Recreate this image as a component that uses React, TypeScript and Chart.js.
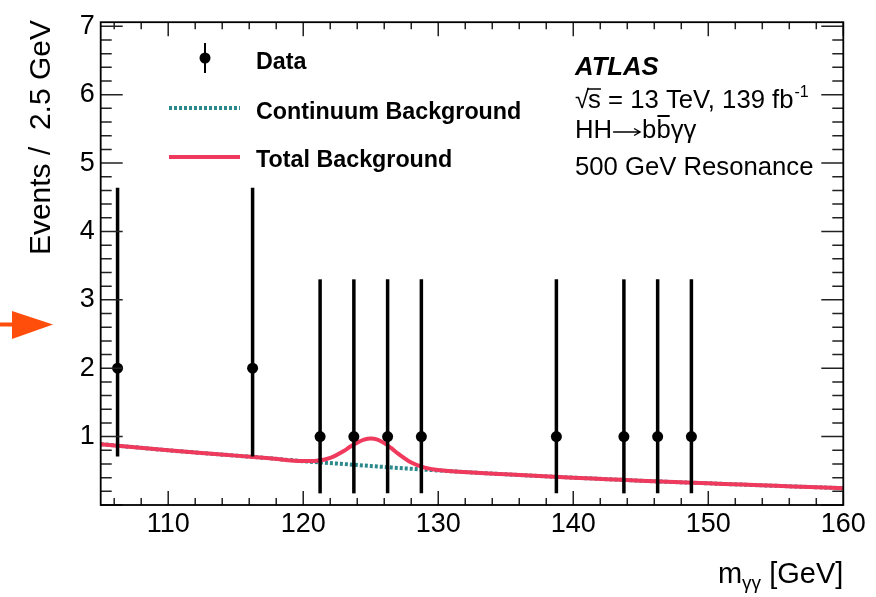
import React, { useEffect, useRef } from 'react';
import { Chart, registerables } from 'chart.js';

Chart.register(...registerables);

// ---- Data ----
const binCenters = [106.25, 116.25, 121.25, 123.75, 126.25, 128.75, 138.75, 143.75, 146.25, 148.75];
const eventCounts = [2, 2, 1, 1, 1, 1, 1, 1, 1, 1];
const errorLow = [0.71, 0.71, 0.17, 0.17, 0.17, 0.17, 0.17, 0.17, 0.17, 0.17];
const errorHigh = [4.64, 4.64, 3.3, 3.3, 3.3, 3.3, 3.3, 3.3, 3.3, 3.3];

const continuumMass = [105, 107.5, 110, 112.5, 115, 117.5, 120, 122.5, 125, 127.5, 130, 132.5, 135, 137.5, 140, 142.5, 145, 147.5, 150, 152.5, 155, 157.5, 160];
const continuumValues = [0.89, 0.845, 0.8, 0.76, 0.722, 0.684, 0.64, 0.606, 0.57, 0.536, 0.505, 0.476, 0.449, 0.424, 0.4, 0.378, 0.355, 0.335, 0.317, 0.298, 0.281, 0.263, 0.246];

const totalMass = [105, 107.5, 110, 112.5, 115, 117.5, 120, 121, 122, 123, 123.5, 124, 124.5, 125, 125.5, 126, 126.5, 127, 128, 129, 130, 132.5, 135, 137.5, 140, 142.5, 145, 147.5, 150, 152.5, 155, 157.5, 160];
const totalValues = [0.89, 0.845, 0.8, 0.76, 0.722, 0.684, 0.642, 0.648, 0.69, 0.79, 0.855, 0.912, 0.955, 0.972, 0.955, 0.905, 0.834, 0.755, 0.622, 0.546, 0.511, 0.476, 0.449, 0.424, 0.4, 0.378, 0.355, 0.335, 0.317, 0.298, 0.281, 0.263, 0.246];

const xMajorTicks = [110, 120, 130, 140, 150, 160];
const yMajorTicks = [1, 2, 3, 4, 5, 6, 7];
const X_MIN = 105;
const X_MAX = 160;
const X_MINOR_STEP = 2;
const Y_MIN = 0;
const Y_MAX = 7.06;
const Y_MINOR_STEP = 0.2;

const legendLabels = ['Data', 'Continuum Background', 'Total Background'];
const atlasLabel = 'ATLAS';
const energyText = ' = 13 TeV, 139 fb';
const lumiExp = '-1';
const processText = 'HH';
const resonanceText = '500 GeV Resonance';
const yTitle = 'Events /  2.5 GeV';

const RED = '#ef3a5d';
const TEAL = '#2b898c';
const FONT = '"Liberation Sans", Arial, Helvetica, sans-serif';

const buildMinor = (start: number, end: number, step: number) => {
  const out: number[] = [];
  const n = Math.round((end - start) / step);
  for (let i = 0; i <= n; i++) out.push(Math.round((start + i * step) * 1000) / 1000);
  return out;
};
const xTickValues = buildMinor(106, 160, X_MINOR_STEP);
const yTickValues = buildMinor(0, 7, Y_MINOR_STEP);

const decorPlugin = {
  id: 'atlasDecor',
  beforeDatasetDraw(chart: any, args: any) {
    if (args.index !== 0) return;
    const { ctx, scales } = chart;
    const xs = scales.x;
    const ys = scales.y;
    ctx.save();
    ctx.strokeStyle = '#000';
    ctx.lineWidth = 3.5;
    ctx.lineCap = 'butt';
    binCenters.forEach((m, i) => {
      const px = xs.getPixelForValue(m);
      ctx.beginPath();
      ctx.moveTo(px, ys.getPixelForValue(errorLow[i]));
      ctx.lineTo(px, ys.getPixelForValue(errorHigh[i]));
      ctx.stroke();
    });
    ctx.restore();
  },
  afterDraw(chart: any) {
    const { ctx, chartArea, scales } = chart;
    const { left, right, top, bottom } = chartArea;
    const xs = scales.x;
    const ys = scales.y;
    ctx.save();
    // ticks (inward, all four sides)
    ctx.strokeStyle = '#222';
    ctx.lineWidth = 1.5;
    xTickValues.forEach((v) => {
      const px = xs.getPixelForValue(v);
      const major = xMajorTicks.includes(v);
      const len = major ? 14 : 7;
      ctx.beginPath();
      ctx.moveTo(px, bottom);
      ctx.lineTo(px, bottom - len);
      ctx.moveTo(px, top);
      ctx.lineTo(px, top + len);
      ctx.stroke();
    });
    yTickValues.forEach((v) => {
      const py = ys.getPixelForValue(v);
      const major = Math.abs(v - Math.round(v)) < 1e-6;
      const len = major ? 22 : 11;
      ctx.beginPath();
      ctx.moveTo(left, py);
      ctx.lineTo(left + len, py);
      ctx.moveTo(right, py);
      ctx.lineTo(right - len, py);
      ctx.stroke();
    });
    // frame
    ctx.strokeStyle = '#000';
    ctx.lineWidth = 1.8;
    ctx.strokeRect(left, top, right - left, bottom - top);

    // y title
    ctx.fillStyle = '#000';
    ctx.save();
    ctx.translate(42, 20);
    ctx.rotate(-Math.PI / 2);
    ctx.font = `30px ${FONT}`;
    ctx.textAlign = 'right';
    ctx.textBaseline = 'middle';
    ctx.fillText(yTitle, 0, 0);
    ctx.restore();

    // x title: m_{γγ} [GeV]
    ctx.textBaseline = 'alphabetic';
    ctx.textAlign = 'left';
    ctx.font = `29px ${FONT}`;
    const w3 = ctx.measureText(' [GeV]').width;
    const wm = ctx.measureText('m').width;
    ctx.font = `19px ${FONT}`;
    const ws = ctx.measureText('γγ').width;
    let tx = right - w3 - ws - wm;
    const tb = 583;
    ctx.font = `29px ${FONT}`;
    ctx.fillText('m', tx, tb);
    tx += wm;
    ctx.font = `19px ${FONT}`;
    ctx.fillText('γγ', tx, tb + 6);
    tx += ws;
    ctx.font = `29px ${FONT}`;
    ctx.fillText(' [GeV]', tx, tb);

    // legend
    const lx0 = 169;
    const lx1 = 240;
    ctx.fillStyle = '#000';
    ctx.strokeStyle = '#000';
    ctx.lineWidth = 2;
    ctx.beginPath();
    ctx.moveTo(205, 43);
    ctx.lineTo(205, 73);
    ctx.stroke();
    ctx.beginPath();
    ctx.arc(205, 58, 5.5, 0, Math.PI * 2);
    ctx.fill();
    ctx.strokeStyle = TEAL;
    ctx.lineWidth = 4;
    ctx.setLineDash([3, 2]);
    ctx.beginPath();
    ctx.moveTo(lx0, 108);
    ctx.lineTo(lx1, 108);
    ctx.stroke();
    ctx.setLineDash([]);
    ctx.strokeStyle = RED;
    ctx.beginPath();
    ctx.moveTo(lx0, 157);
    ctx.lineTo(lx1, 157);
    ctx.stroke();
    ctx.font = `bold 23.3px ${FONT}`;
    ctx.fillStyle = '#000';
    ctx.fillText(legendLabels[0], 256, 69);
    ctx.fillText(legendLabels[1], 256, 118.5);
    ctx.fillText(legendLabels[2], 256, 166.5);

    // ATLAS block
    const ax = 575;
    const fs = 25.7;
    ctx.font = `italic bold ${fs}px ${FONT}`;
    ctx.fillText(atlasLabel, ax, 75);
    ctx.font = `${fs}px ${FONT}`;
    let cx = ax;
    ctx.fillText('√', cx, 108);
    cx += ctx.measureText('√').width - 1;
    const sw = ctx.measureText('s').width;
    ctx.fillText('s', cx, 108);
    ctx.lineWidth = 1.5;
    ctx.strokeStyle = '#000';
    ctx.beginPath();
    ctx.moveTo(cx - 1, 89);
    ctx.lineTo(cx + sw, 89);
    ctx.stroke();
    cx += sw;
    ctx.fillText(energyText, cx, 108);
    cx += ctx.measureText(energyText).width;
    ctx.font = `16px ${FONT}`;
    ctx.fillText(lumiExp, cx + 1, 97);

    ctx.font = `${fs}px ${FONT}`;
    cx = ax;
    ctx.fillText(processText, cx, 138);
    cx += ctx.measureText(processText).width;
    // long thin arrow (→)
    ctx.lineWidth = 1.4;
    ctx.beginPath();
    ctx.moveTo(cx + 1, 132);
    ctx.lineTo(cx + 28, 132);
    ctx.moveTo(cx + 22, 128.5);
    ctx.lineTo(cx + 28, 132);
    ctx.lineTo(cx + 22, 135.5);
    ctx.stroke();
    cx += 30;
    ctx.fillText('b', cx, 138);
    cx += ctx.measureText('b').width;
    const bw = ctx.measureText('b').width;
    ctx.fillText('b', cx, 138);
    ctx.lineWidth = 2;
    ctx.beginPath();
    ctx.moveTo(cx + 1, 116);
    ctx.lineTo(cx + bw - 1, 116);
    ctx.stroke();
    cx += bw;
    ctx.fillText('γγ', cx, 138);

    ctx.fillText(resonanceText, ax, 175);

    // orange arrow annotation
    ctx.fillStyle = '#ff4e0c';
    ctx.fillRect(0, 322.5, 13, 4);
    ctx.beginPath();
    ctx.moveTo(12, 311);
    ctx.lineTo(53, 324.5);
    ctx.lineTo(12, 339);
    ctx.closePath();
    ctx.fill();
    ctx.restore();
  },
};

export default function App() {
  const canvasRef = useRef<HTMLCanvasElement | null>(null);

  useEffect(() => {
    document.body.style.margin = '0';
    const canvas = canvasRef.current;
    if (!canvas) return;
    const chart = new Chart(canvas, {
      type: 'scatter',
      data: {
        datasets: [
          {
            label: legendLabels[0],
            data: binCenters.map((m, i) => ({ x: m, y: eventCounts[i] })),
            backgroundColor: '#000',
            borderColor: '#000',
            pointRadius: 5.5,
            borderWidth: 0,
            order: 0,
          },
          {
            label: legendLabels[2],
            type: 'line',
            data: totalMass.map((m, i) => ({ x: m, y: totalValues[i] })),
            borderColor: RED,
            borderWidth: 4,
            pointRadius: 0,
            showLine: true,
            fill: false,
            cubicInterpolationMode: 'monotone',
            order: 1,
          },
          {
            label: legendLabels[1],
            type: 'line',
            data: continuumMass.map((m, i) => ({ x: m, y: continuumValues[i] })),
            borderColor: TEAL,
            borderWidth: 4,
            borderDash: [3, 2],
            pointRadius: 0,
            showLine: true,
            fill: false,
            cubicInterpolationMode: 'monotone',
            order: 2,
          },
        ],
      } as any,
      options: {
        responsive: false,
        animation: false,
        devicePixelRatio: 1,
        layout: { padding: { left: 0, top: 22, right: 32.7, bottom: 0 } },
        plugins: { legend: { display: false }, tooltip: { enabled: false } },
        scales: {
          x: {
            type: 'linear',
            min: X_MIN,
            max: X_MAX,
            grid: { display: false, drawTicks: false },
            border: { display: false },
            afterBuildTicks: (s: any) => {
              s.ticks = xTickValues.map((v) => ({ value: v }));
            },
            afterFit: (s: any) => {
              s.height = 92;
            },
            ticks: {
              autoSkip: false,
              maxRotation: 0,
              padding: 3,
              color: '#000',
              font: { family: FONT, size: 27 },
              callback: (v: any) => (xMajorTicks.includes(Number(v)) ? String(v) : ''),
            },
          },
          y: {
            type: 'linear',
            min: Y_MIN,
            max: Y_MAX,
            grid: { display: false, drawTicks: false },
            border: { display: false },
            afterBuildTicks: (s: any) => {
              s.ticks = yTickValues.map((v) => ({ value: v }));
            },
            afterFit: (s: any) => {
              s.width = 100.7;
            },
            ticks: {
              autoSkip: false,
              padding: 6,
              color: '#000',
              font: { family: FONT, size: 27 },
              callback: (v: any) => (yMajorTicks.includes(Number(v)) ? String(v) : ''),
            },
          },
        },
      } as any,
      plugins: [decorPlugin],
    });
    return () => chart.destroy();
  }, []);

  return (
    <div style={{ width: 876, height: 597, background: '#fff' }}>
      <canvas ref={canvasRef} width={876} height={597} style={{ display: 'block' }} />
    </div>
  );
}
